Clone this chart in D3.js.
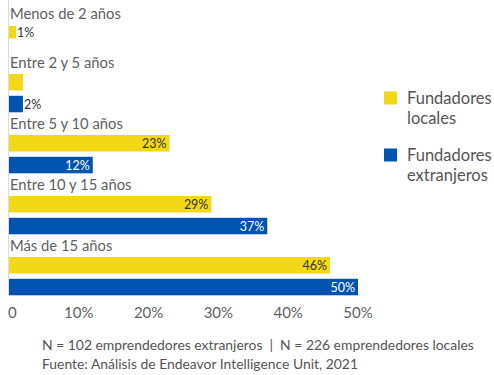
<!DOCTYPE html>
<html>
<head>
<meta charset="utf-8">
<script src="https://cdn.jsdelivr.net/npm/d3@7"></script>
<style>
  html, body { margin: 0; padding: 0; background: #fff; }
  svg { display: block; font-family: Lato, "Open Sans", sans-serif; }
</style>
</head>
<body>
<svg id="chart" width="494" height="375"></svg>
<script>
// Company age groups
const categories = ["Menos de 2 años", "Entre 2 y 5 años", "Entre 5 y 10 años", "Entre 10 y 15 años", "Más de 15 años"];
// Share of founders per age group (%); null = no bar
const localValues = [1, 2, 23, 29, 46];
const foreignValues = [null, 2, 12, 37, 50];
const seriesNames = ["Fundadores locales", "Fundadores extranjeros"];
const seriesColors = ["#F3D817", "#0053AE"];
const labelColors = ["#333333", "#ffffff"];
// value labels left out of the drawing
const hiddenLabels = [["Fundadores locales", "Entre 2 y 5 años"]];
const xTicks = [0, 10, 20, 30, 40, 50];
const footerLines = [
  "N = 102 emprendedores extranjeros  |  N = 226 emprendedores locales",
  "Fuente: Análisis de Endeavor Intelligence Unit, 2021"
];

const svg = d3.select("#chart");
const seriesValues = [localValues, foreignValues];

const x = d3.scaleLinear().domain([0, 50]).range([9, 358]);
const groupY = d3.scaleBand().domain(categories).range([13, 318]);

const barStep = 21.8, barH = 16.5;
const fullInner = 2 * barStep - (barStep - barH);

// rows: one per non-null value
const groups = categories.map((cat, i) => {
  const present = seriesNames.filter((s, j) => seriesValues[j][i] != null);
  const innerH = present.length * barStep - (barStep - barH);
  const start = groupY(cat) + (fullInner - innerH) / 2;
  const inner = d3.scaleBand().domain(present).range([start, start + innerH])
    .paddingInner((barStep - barH) / barStep).paddingOuter(0);
  return {
    cat, inner,
    bars: present.map(s => {
      const j = seriesNames.indexOf(s);
      return { cat, series: s, j, value: seriesValues[j][i] };
    })
  };
});

// left baseline
svg.append("line")
  .attr("x1", x(0) - 0.5).attr("x2", x(0) - 0.5)
  .attr("y1", 0).attr("y2", groupY(categories[categories.length - 1]) + fullInner)
  .attr("stroke", "#dcdcdc").attr("stroke-width", 1);

const g = svg.selectAll("g.group").data(groups).join("g").attr("class", "group");

// group headings
g.append("text")
  .attr("x", 10)
  .attr("y", d => d.inner(d.bars[0].series) - 6.5)
  .attr("fill", "#606060")
  .attr("font-size", 14.8)
  .text(d => d.cat);

// bars
g.selectAll("rect").data(d => d.bars.map(b => Object.assign({ y: d.inner(b.series), h: d.inner.bandwidth() }, b)))
  .join("rect")
  .attr("x", x(0))
  .attr("y", b => b.y)
  .attr("width", b => x(b.value) - x(0))
  .attr("height", b => b.h)
  .attr("fill", b => seriesColors[b.j]);

// value labels
const isHidden = b => hiddenLabels.some(h => h[0] === b.series && h[1] === b.cat);
g.selectAll("text.val").data(d => d.bars.filter(b => !isHidden(b)).map(b => Object.assign({ y: d.inner(b.series), h: d.inner.bandwidth() }, b)))
  .join("text")
  .attr("class", "val")
  .attr("font-size", 12.5)
  .attr("y", b => b.y + b.h / 2)
  .attr("dy", "0.36em")
  .text(b => b.value + "%")
  .each(function (b) {
    const w = this.getComputedTextLength();
    const barW = x(b.value) - x(0);
    const inside = barW > w + 6;
    d3.select(this)
      .attr("x", inside ? x(b.value) - 3 : x(b.value) + 1)
      .attr("text-anchor", inside ? "end" : "start")
      .attr("fill", inside ? labelColors[b.j] : "#333333");
  });

// x axis labels
svg.append("g").selectAll("text").data(xTicks).join("text")
  .attr("x", d => d === 0 ? x(d) - 1 : x(d))
  .attr("y", 318)
  .attr("text-anchor", d => d === 0 ? "start" : "middle")
  .attr("font-size", 15)
  .attr("fill", "#5f5f5f")
  .text(d => d === 0 ? "0" : d + "%");

// legend
const legend = svg.append("g").selectAll("g").data(seriesNames).join("g")
  .attr("transform", (d, i) => `translate(384, ${104 + i * 57})`);
legend.append("rect")
  .attr("x", 0).attr("y", -12.5).attr("width", 13).attr("height", 13)
  .attr("fill", (d, i) => seriesColors[i]);
legend.append("text")
  .attr("x", 23).attr("y", 0)
  .attr("font-size", 16.5)
  .attr("fill", "#555555")
  .selectAll("tspan").data(d => d.split(" ")).join("tspan")
  .attr("x", 23).attr("dy", (d, i) => i === 0 ? 0 : 19.5)
  .text(d => d);

// footer
svg.append("g").selectAll("text").data(footerLines).join("text")
  .attr("x", 42)
  .attr("y", (d, i) => 350 + i * 18.5)
  .attr("font-size", 13.9)
  .attr("fill", "#555555")
  .style("white-space", "pre")
  .text(d => d);
</script>
</body>
</html>
